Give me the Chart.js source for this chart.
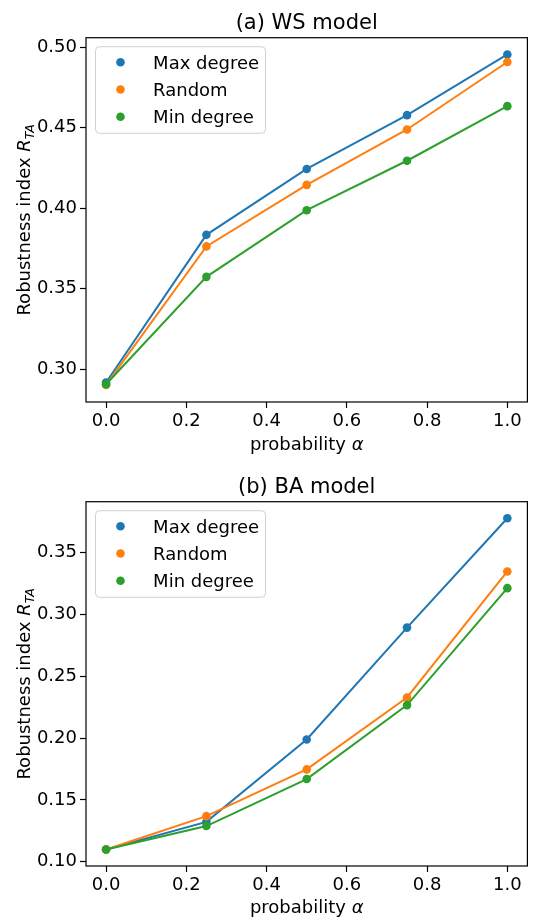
<!DOCTYPE html>
<html>
<head>
<meta charset="utf-8">
<script src="https://cdn.jsdelivr.net/npm/chart.js@4.4.1/dist/chart.umd.min.js"></script>
<style>
  body { margin: 0; background: #fff; }
  canvas { display: block; }
</style>
</head>
<body>
<canvas id="ws" width="536" height="460"></canvas>
<canvas id="ba" width="536" height="459"></canvas>
<script>
// data
const alphas = [0, 0.25, 0.5, 0.75, 1.0];
const seriesNames = ['Max degree', 'Random', 'Min degree'];

const wsMax = [0.2918, 0.3835, 0.4244, 0.4578, 0.4955];
const wsRandom = [0.2903, 0.3763, 0.4145, 0.4489, 0.4908];
const wsMin = [0.2907, 0.3574, 0.3988, 0.4295, 0.4634];

const baMax = [0.110, 0.1323, 0.1989, 0.2894, 0.3778];
const baRandom = [0.110, 0.1369, 0.1747, 0.2329, 0.3348];
const baMin = [0.110, 0.1289, 0.1669, 0.2267, 0.3213];

const xTicks = [0, 0.2, 0.4, 0.6, 0.8, 1.0];
const wsYTicks = [0.30, 0.35, 0.40, 0.45, 0.50];
const baYTicks = [0.10, 0.15, 0.20, 0.25, 0.30, 0.35];

const colors = ['#1f77b4', '#ff7f0e', '#2ca02c'];
const FONT = '"DejaVu Sans", sans-serif';

// frame, titles, axis labels and the boxed legend (matplotlib look)
const decor = {
  id: 'decor',
  afterDraw(chart, args, opts) {
    const ctx = chart.ctx;
    const a = chart.chartArea;
    ctx.save();
    ctx.strokeStyle = '#000';
    ctx.lineWidth = 1.2;
    ctx.strokeRect(a.left, a.top, a.right - a.left, a.bottom - a.top);

    ctx.fillStyle = '#000';
    const cx = (a.left + a.right) / 2;

    // title
    ctx.font = '21px ' + FONT;
    ctx.textAlign = 'center';
    ctx.textBaseline = 'alphabetic';
    ctx.fillText(opts.title, cx, opts.titleY);

    // x label: "probability α"
    ctx.textAlign = 'left';
    ctx.font = '18px ' + FONT;
    const w1 = ctx.measureText('probability ').width;
    ctx.font = 'italic 18px ' + FONT;
    const w2 = ctx.measureText('α').width;
    let x0 = cx - (w1 + w2) / 2;
    ctx.font = '18px ' + FONT;
    ctx.fillText('probability ', x0, opts.xLabelY);
    ctx.font = 'italic 18px ' + FONT;
    ctx.fillText('α', x0 + w1, opts.xLabelY);

    // y label: "Robustness index R_TA", rotated
    ctx.save();
    ctx.translate(29.5, (a.top + a.bottom) / 2);
    ctx.rotate(-Math.PI / 2);
    ctx.font = '18px ' + FONT;
    const t1 = ctx.measureText('Robustness index ').width;
    ctx.font = 'italic 18px ' + FONT;
    const t2 = ctx.measureText('R').width;
    ctx.font = 'italic 12.5px ' + FONT;
    const t3 = ctx.measureText('TA').width;
    let s = -(t1 + t2 + t3) / 2;
    ctx.font = '18px ' + FONT;
    ctx.fillText('Robustness index ', s, 0);
    ctx.font = 'italic 18px ' + FONT;
    ctx.fillText('R', s + t1, 0);
    ctx.font = 'italic 12.5px ' + FONT;
    ctx.fillText('TA', s + t1 + t2, 4);
    ctx.restore();

    // legend box
    const bx = a.left + 9.5, by = a.top + 9, bw = 170, bh = 86.6;
    ctx.beginPath();
    ctx.roundRect(bx, by, bw, bh, 4);
    ctx.fillStyle = 'rgba(255,255,255,0.8)';
    ctx.fill();
    ctx.strokeStyle = '#d0d0d0';
    ctx.lineWidth = 1;
    ctx.stroke();
    ctx.font = '18px ' + FONT;
    ctx.textAlign = 'left';
    chart.data.datasets.forEach((ds, i) => {
      const yy = by + 15.6 + 27.2 * i;
      ctx.beginPath();
      ctx.arc(bx + 25, yy, 4.3, 0, Math.PI * 2);
      ctx.fillStyle = ds.borderColor;
      ctx.fill();
      ctx.fillStyle = '#000';
      ctx.fillText(ds.label, bx + 57.6, yy + 6.3);
    });
    ctx.restore();
  }
};

function makeChart(id, series, yTicks, yMin, yMax, deco, xHeight) {
  const datasets = series.map((vals, i) => ({
    label: seriesNames[i],
    data: alphas.map((x, j) => ({ x: x, y: vals[j] })),
    borderColor: colors[i],
    backgroundColor: colors[i],
    borderWidth: 2,
    pointRadius: 4.3,
    pointBorderWidth: 0,
    pointHoverRadius: 4.3,
    order: 2 - i,
    tension: 0
  }));
  const tickGrid = {
    display: true,
    drawOnChartArea: false,
    drawTicks: true,
    tickLength: 6,
    tickColor: '#000',
    tickWidth: 1.2
  };
  return new Chart(document.getElementById(id), {
    type: 'line',
    data: { datasets: datasets },
    plugins: [decor],
    options: {
      responsive: false,
      animation: false,
      layout: { padding: { top: deco.top, right: 8.6, left: 0, bottom: 0 } },
      plugins: {
        legend: { display: false },
        tooltip: { enabled: false },
        decor: deco
      },
      scales: {
        x: {
          type: 'linear',
          min: -0.05,
          max: 1.05,
          afterBuildTicks: (s) => { s.ticks = xTicks.map(v => ({ value: v })); },
          afterFit: (s) => { s.height = xHeight; },
          ticks: {
            callback: (v) => v.toFixed(1),
            font: { family: FONT, size: 18 },
            color: '#000',
            padding: 3,
            maxRotation: 0
          },
          grid: tickGrid,
          border: { display: false }
        },
        y: {
          min: yMin,
          max: yMax,
          afterBuildTicks: (s) => { s.ticks = yTicks.map(v => ({ value: v })); },
          afterFit: (s) => { s.width = 86; },
          ticks: {
            callback: (v) => v.toFixed(2),
            font: { family: FONT, size: 18 },
            color: '#000',
            padding: 3
          },
          grid: tickGrid,
          border: { display: false }
        }
      }
    }
  });
}

makeChart('ws', [wsMax, wsRandom, wsMin], wsYTicks, 0.2797, 0.5059,
  { title: '(a) WS model', titleY: 29.3, xLabelY: 450, top: 37.7 }, 58);
makeChart('ba', [baMax, baRandom, baMin], baYTicks, 0.0966, 0.3912,
  { title: '(b) BA model', titleY: 33.3, xLabelY: 453.3, top: 41.7 }, 53);
</script>
</body>
</html>
